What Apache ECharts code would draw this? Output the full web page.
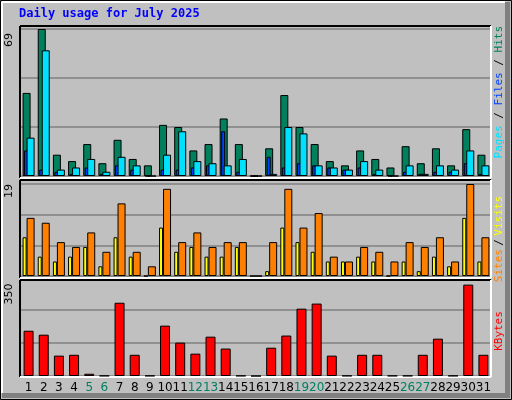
<!DOCTYPE html>
<html><head><meta charset="utf-8">
<script src="https://cdn.jsdelivr.net/npm/echarts@6/dist/echarts.min.js"></script>
<style>html,body{margin:0;padding:0;background:#c0c0c0}#c{width:512px;height:400px}</style>
</head><body><div id="c"></div>
<script>
const days = ['1','2','3','4','5','6','7','8','9','10','11','12','13','14','15','16','17','18','19','20','21','22','23','24','25','26','27','28','29','30','31'];
const weekend = ['5','6','12','13','19','20','26','27'];
const hits  = [39,69,10,7,15,6,17,8,5,24,23,12,15,27,15,0,13,38,23,15,7,5,12,8,4,14,6,13,5,22,10];
const files = [18,59,3,4,8,2,9,5,0,10,21,7,6,5,8,0,1,23,20,5,4,3,7,3,0,5,1,5,3,12,5];
const pages = [12,3,2,1,4,1,5,3,0,3,3,4,5,21,2,0,9,4,6,5,4,3,4,1,0,2,1,2,2,6,1];
const sites = [8,4,3,4,6,2,8,4,0,10,5,6,4,4,6,0,1,10,7,5,3,3,4,3,0,3,1,4,2,12,3];
const visits= [12,11,7,6,9,5,15,5,2,18,7,9,6,7,7,0,7,18,10,13,4,3,6,5,3,7,6,8,3,19,8];
const kbytes= [160,146,72,75,8,1,259,75,1,178,118,79,139,97,1,0,100,143,238,256,72,1,75,75,1,1,75,132,1,323,75];
const maxLabels = ['69','19','350'];

const L=21, R=21;
const grids=[{left:L,right:R,top:29,height:147},{left:L,right:R,top:184,height:92},{left:L,right:R,top:277,height:99}];
const ymax=[69,19,350];
const xAxes=[], yAxes=[];
[0,0,1,2].forEach((g,i)=>{
  xAxes.push({type:'category',data:days,gridIndex:g,show:i===3,axisLine:{show:false},axisTick:{show:false},
    axisLabel:{interval:0,margin:6,fontFamily:'DejaVu Sans',fontSize:12,color:'#000',
      formatter:v=>weekend.includes(v)?'{w|'+v+'}':v,rich:{w:{color:'#008060',fontFamily:'DejaVu Sans',fontSize:12}}}});
});
for(let g=0;g<3;g++) yAxes.push({type:'value',gridIndex:g,min:0,max:ymax[g],interval:ymax[g]/3,axisLabel:{show:false},axisLine:{show:false},axisTick:{show:false},splitLine:{lineStyle:{color:'#808080',width:1.5}}});
const bd={borderColor:'#000',borderWidth:1};
const series=[
 {type:'bar',xAxisIndex:0,yAxisIndex:0,data:hits,barWidth:8,barGap:'-50%',itemStyle:{color:'#00805c',...bd},z:2},
 {type:'bar',xAxisIndex:0,yAxisIndex:0,data:files,barWidth:8,itemStyle:{color:'#00e0ff',...bd},z:4},
 {type:'bar',xAxisIndex:1,yAxisIndex:0,data:pages,barWidth:4,barGap:'0%',itemStyle:{color:'#0040ff',...bd},z:3},
 {type:'bar',xAxisIndex:1,yAxisIndex:0,data:[],barWidth:5,barGap:'0%'},
 {type:'bar',xAxisIndex:2,yAxisIndex:1,data:sites,barWidth:4,barGap:'0%',itemStyle:{color:'#ffff00',...bd}},
 {type:'bar',xAxisIndex:2,yAxisIndex:1,data:visits,barWidth:8,itemStyle:{color:'#ff8000',...bd}},
 {type:'bar',xAxisIndex:3,yAxisIndex:2,data:kbytes,barWidth:10,itemStyle:{color:'#ff0000',...bd}}
];
function frame(x,y,w,h){return [
 {type:'line',shape:{x1:x,y1:y,x2:x+w,y2:y},style:{stroke:'#000',lineWidth:2},z:1},
 {type:'line',shape:{x1:x,y1:y,x2:x,y2:y+h},style:{stroke:'#000',lineWidth:2},z:1},
 {type:'line',shape:{x1:x,y1:y+h,x2:x+w,y2:y+h},style:{stroke:'#fff',lineWidth:2},z:1},
 {type:'line',shape:{x1:x+w,y1:y,x2:x+w,y2:y+h},style:{stroke:'#fff',lineWidth:2},z:1}];}
const graphic=[
 {type:'rect',shape:{x:0.5,y:0.5,width:511,height:399},style:{fill:'none',stroke:'#000',lineWidth:1},z:0},
 {type:'rect',shape:{x:505,y:2,width:5,height:396},style:{fill:'#808080'},z:0},
 {type:'rect',shape:{x:2,y:393,width:508,height:5},style:{fill:'#808080'},z:0},
 {type:'line',shape:{x1:2,y1:2,x2:505,y2:2},style:{stroke:'#fff',lineWidth:2},z:0},
 {type:'line',shape:{x1:2,y1:2,x2:2,y2:393},style:{stroke:'#fff',lineWidth:2},z:0},
 ...frame(20,26,471,152),...frame(20,180,471,98),...frame(20,280,471,97),
 {type:'text',left:19,top:8,style:{text:'Daily usage for July 2025',fill:'#0000ff',font:'bold 12px "DejaVu Sans Mono"'}},
 {type:'text',x:9,y:40,rotation:Math.PI/2,style:{text:maxLabels[0],fill:'#000',font:'11px "DejaVu Sans"',align:'center',verticalAlign:'middle'}},
 {type:'text',x:9,y:191,rotation:Math.PI/2,style:{text:maxLabels[1],fill:'#000',font:'11px "DejaVu Sans"',align:'center',verticalAlign:'middle'}},
 {type:'text',x:9,y:294,rotation:Math.PI/2,style:{text:maxLabels[2],fill:'#000',font:'11px "DejaVu Sans"',align:'center',verticalAlign:'middle'}},
 {type:'text',x:499,y:26,rotation:Math.PI/2,style:{text:'{p|Pages} {s|/} {f|Files} {s|/} {h|Hits}',align:'right',verticalAlign:'middle',font:'11px "DejaVu Sans Mono"',
   rich:{p:{fill:'#00e0ff',font:'11px "DejaVu Sans Mono"'},f:{fill:'#0040ff',font:'11px "DejaVu Sans Mono"'},h:{fill:'#00805c',font:'11px "DejaVu Sans Mono"'},s:{fill:'#000',font:'11px "DejaVu Sans Mono"'}}}},
 {type:'text',x:499,y:196,rotation:Math.PI/2,style:{text:'{v|Sites} {s|/} {y|Visits}',align:'right',verticalAlign:'middle',
   rich:{v:{fill:'#ff8000',font:'11px "DejaVu Sans Mono"'},y:{fill:'#ffff00',font:'11px "DejaVu Sans Mono"'},s:{fill:'#000',font:'11px "DejaVu Sans Mono"'}}}},
 {type:'text',x:499,y:331,rotation:Math.PI/2,style:{text:'KBytes',fill:'#ff0000',font:'11px "DejaVu Sans Mono"',align:'center',verticalAlign:'middle'}}
];
const chart=echarts.init(document.getElementById('c'),null,{renderer:'canvas'});
chart.setOption({animation:false,backgroundColor:'#c0c0c0',grid:grids,xAxis:xAxes,yAxis:yAxes,series,graphic});
</script></body></html>
